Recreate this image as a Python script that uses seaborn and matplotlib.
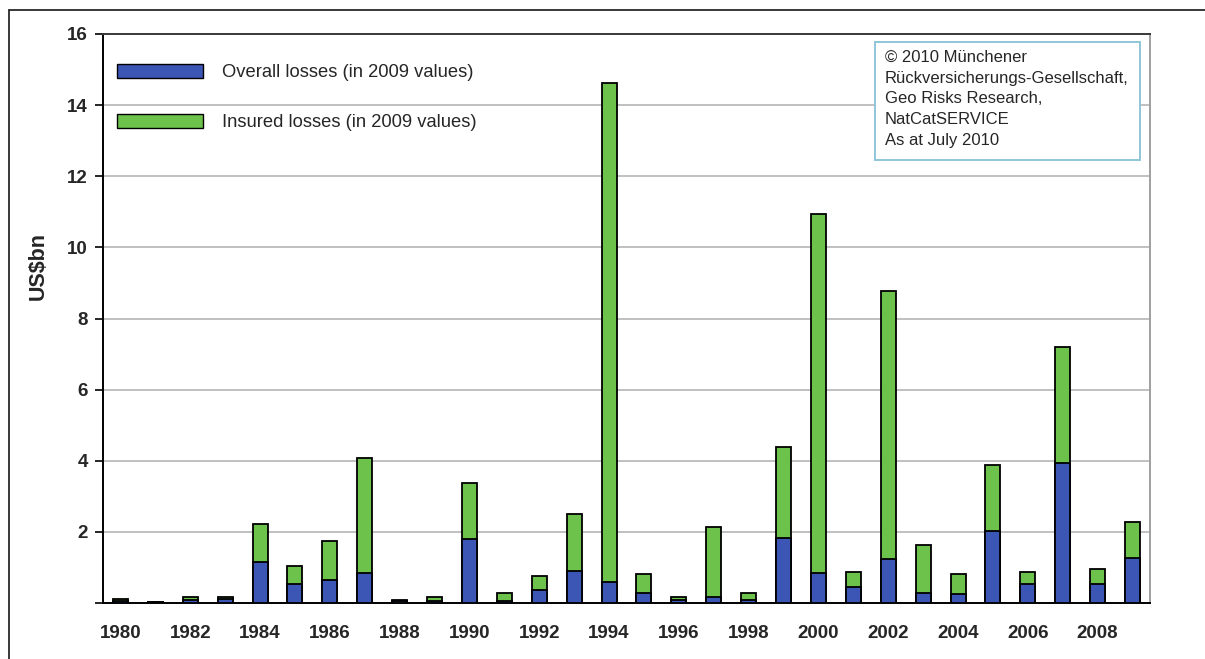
import matplotlib
matplotlib.use("Agg")
import matplotlib.pyplot as plt
from matplotlib.patches import Patch, Rectangle
from matplotlib.lines import Line2D
import numpy as np
import pandas as pd
import seaborn as sns

years = list(range(1980, 2010))
# lower (blue) segment of each stacked bar, US$bn
overall_losses = [0.05, 0.02, 0.08, 0.12, 1.14, 0.53, 0.64, 0.83, 0.05, 0.05,
                  1.79, 0.05, 0.37, 0.91, 0.60, 0.28, 0.08, 0.16, 0.08, 1.83,
                  0.83, 0.44, 1.24, 0.28, 0.24, 2.02, 0.53, 3.95, 0.53, 1.27]
# top of each stacked bar (green segment ends here), US$bn
bar_totals = [0.10, 0.03, 0.17, 0.17, 2.22, 1.04, 1.75, 4.08, 0.08, 0.18,
              3.37, 0.29, 0.77, 2.50, 14.62, 0.81, 0.18, 2.14, 0.29, 4.40,
              10.94, 0.87, 8.77, 1.63, 0.81, 3.88, 0.87, 7.20, 0.96, 2.27]
y_ticks = [0, 2, 4, 6, 8, 10, 12, 14, 16]

legend_labels = ["Overall losses (in 2009 values)", "Insured losses (in 2009 values)"]
source_note = ("\u00a9 2010 M\u00fcnchener\nR\u00fcckversicherungs-Gesellschaft,\n"
               "Geo Risks Research,\nNatCatSERVICE\nAs at July 2010")

BLUE = "#3c56b5"
GREEN = "#6cc24a"

df = pd.DataFrame({"year": [str(y) for y in years],
                   "overall": overall_losses,
                   "total": bar_totals})

sns.set_theme(style="white")
plt.rcParams["font.family"] = ["Liberation Sans", "DejaVu Sans"]

fig = plt.figure(figsize=(12.05, 6.59), dpi=100, facecolor="white")
ax = fig.add_axes([103 / 1205, 1 - 603 / 659, (1150 - 103) / 1205, (603 - 34) / 659])
ax.set_facecolor("white")

# stacked bars: full height in green, lower part overdrawn in blue
sns.barplot(data=df, x="year", y="total", color=GREEN, width=0.43,
            edgecolor="black", linewidth=1.3, saturation=1, ax=ax, zorder=3)
sns.barplot(data=df, x="year", y="overall", color=BLUE, width=0.43,
            edgecolor="black", linewidth=1.3, saturation=1, ax=ax, zorder=4)

ax.set_xlim(-0.5, len(years) - 0.5)
ax.set_ylim(0, 16)
ax.set_yticks(y_ticks)
ax.set_yticklabels(["" if v == 0 else str(v) for v in y_ticks],
                   fontsize=13.5, fontweight="bold")
ax.yaxis.grid(True, color="#b5b5b5", linewidth=1.2, zorder=0)
ax.set_axisbelow(True)

pos = np.arange(len(years))
ax.set_xticks(pos[::2])
ax.set_xticklabels([str(y) for y in years[::2]], fontsize=13.5, fontweight="bold")
ax.set_xticks(np.arange(len(years) + 1) - 0.5, minor=True)
ax.tick_params(axis="x", which="major", length=0, pad=16)
ax.tick_params(axis="x", which="minor", length=6, width=1.2, color="black", direction="out")
ax.tick_params(axis="y", which="major", length=6, width=1.2, color="black",
               direction="out", left=True, pad=5)

ax.set_xlabel("")
ax.set_ylabel("US$bn", fontsize=15.5, fontweight="bold")
ax.yaxis.set_label_coords((49 - 103) / 1047, (603 - 266) / 569)

for side in ["left", "bottom"]:
    ax.spines[side].set_color("black")
    ax.spines[side].set_linewidth(1.4)
ax.spines["top"].set_color("#3a3a3a")
ax.spines["top"].set_linewidth(1.4)
ax.spines["right"].set_color("#a0a0a0")
ax.spines["right"].set_linewidth(1.4)

handles = [Patch(facecolor=BLUE, edgecolor="black", linewidth=1.0),
           Patch(facecolor=GREEN, edgecolor="black", linewidth=1.0)]
ax.legend(handles, legend_labels, loc="upper left",
          bbox_to_anchor=((117 - 103) / 1047, (603 - 64) / 569),
          frameon=False, fontsize=13.2, handlelength=4.7, handleheight=0.77,
          handletextpad=1.0, labelspacing=1.8, borderpad=0, borderaxespad=0)

# source note in a thin cyan-bordered box
ax.add_patch(Rectangle(((875 - 103) / 1047, (603 - 160) / 569),
                       (1140 - 875) / 1047, (160 - 42) / 569,
                       transform=ax.transAxes, facecolor="white",
                       edgecolor="#8ec6d8", linewidth=1.4, zorder=6))
ax.text((885 - 103) / 1047, (603 - 50) / 569, source_note, transform=ax.transAxes,
        ha="left", va="top", fontsize=12, linespacing=1.47, zorder=7)

# outer frame lines along the top and left edges of the figure
fig.add_artist(Line2D([9 / 1205, 1.0], [1 - 10 / 659, 1 - 10 / 659],
                      transform=fig.transFigure, color="#2a2a2a", linewidth=1.3))
fig.add_artist(Line2D([9 / 1205, 9 / 1205], [0.0, 1 - 10 / 659],
                      transform=fig.transFigure, color="#2a2a2a", linewidth=1.3))

fig.savefig("out.png", dpi=100, facecolor="white")
